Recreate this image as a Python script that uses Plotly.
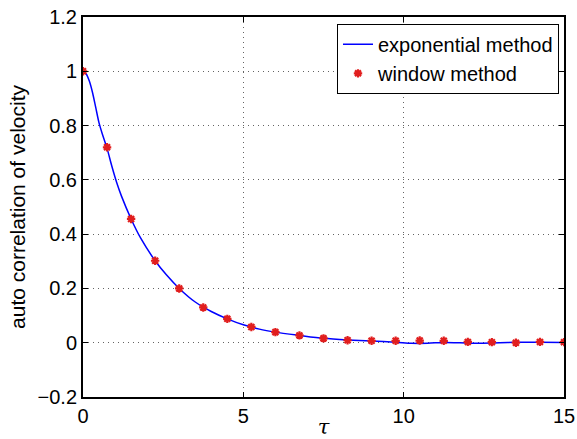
import plotly.graph_objects as go

# Window method samples
tau_win = [0, 0.75, 1.5, 2.25, 3.0, 3.75, 4.5, 5.25, 6.0, 6.75, 7.5, 8.25, 9.0,
           9.75, 10.5, 11.25, 12.0, 12.75, 13.5, 14.25, 15.0]
acf_win = [1.0, 0.72, 0.456, 0.302, 0.20, 0.13, 0.088, 0.058, 0.039, 0.027, 0.016,
           0.009, 0.007, 0.007, 0.008, 0.007, 0.003, 0.002, 0.0, 0.003, 0.002]

# Exponential method curve
tau_exp = [0, 0.1, 0.2, 0.3, 0.4, 0.5, 0.6, 0.75, 0.9, 1.05, 1.2, 1.5, 1.8, 2.25,
           2.6, 3.0, 3.5, 4.0, 4.5, 5.0, 5.5, 6.0, 6.75, 7.5, 8.25, 9.0, 9.75,
           10.25, 10.75, 11.25, 11.75, 12.25, 12.75, 13.25, 13.75, 14.25, 15.0]
acf_exp = [1.0, 0.99, 0.963, 0.92, 0.865, 0.81, 0.77, 0.716, 0.65, 0.59, 0.54,
           0.456, 0.385, 0.302, 0.25, 0.20, 0.15, 0.115, 0.088, 0.066, 0.05,
           0.039, 0.027, 0.016, 0.01, 0.006, 0.002, -0.002, -0.002, 0.001, 0.0,
           -0.002, -0.001, 0.001, 0.002, 0.002, 0.001]

x_ticks = [0, 5, 10, 15]
y_ticks = [-0.2, 0, 0.2, 0.4, 0.6, 0.8, 1.0, 1.2]
y_tick_labels = ["\u22120.2", "0", "0.2", "0.4", "0.6", "0.8", "1", "1.2"]

GRID = "rgb(100,100,100)"

fig = go.Figure()
fig.add_trace(go.Scatter(
    x=tau_exp, y=acf_exp, mode="lines", name="exponential method",
    line=dict(color="rgb(0,0,255)", width=1.5, shape="spline", smoothing=0.8)))
fig.add_trace(go.Scatter(
    x=tau_win, y=acf_win, mode="markers", name="window method",
    marker=dict(symbol="asterisk", size=7, color="rgb(225,30,30)",
                line=dict(color="rgb(225,30,30)", width=2.2))))

axis_common = dict(
    ticks="inside", ticklen=5, tickwidth=1, tickcolor="black",
    showline=True, linecolor="black", linewidth=2, mirror="ticks",
    showgrid=True, gridcolor=GRID, griddash="1px,4px", gridwidth=1,
    zeroline=False, tickfont=dict(size=20), automargin=False,
)

fig.update_layout(
    width=577, height=439,
    margin=dict(l=83, r=13, t=17, b=42),
    paper_bgcolor="white", plot_bgcolor="white",
    font=dict(family="Liberation Sans, Arial, sans-serif", color="black", size=16),
    showlegend=True,
    legend=dict(x=0.9896, y=0.982, xanchor="right", yanchor="top",
                bgcolor="white", bordercolor="black", borderwidth=1,
                font=dict(size=20), tracegroupgap=0, itemwidth=30),
    xaxis=dict(range=[0, 15], tickvals=x_ticks, ticktext=[str(v) for v in x_ticks],
               title=dict(text="<i>\u03c4</i>",
                          font=dict(size=21, family="DejaVu Serif, serif"),
                          standoff=0),
               **axis_common),
    yaxis=dict(range=[-0.2, 1.2], tickvals=y_ticks, ticktext=y_tick_labels,
               title=dict(text="auto correlation of velocity", font=dict(size=21),
                          standoff=6),
               **axis_common),
)

fig.write_html("out.html")
